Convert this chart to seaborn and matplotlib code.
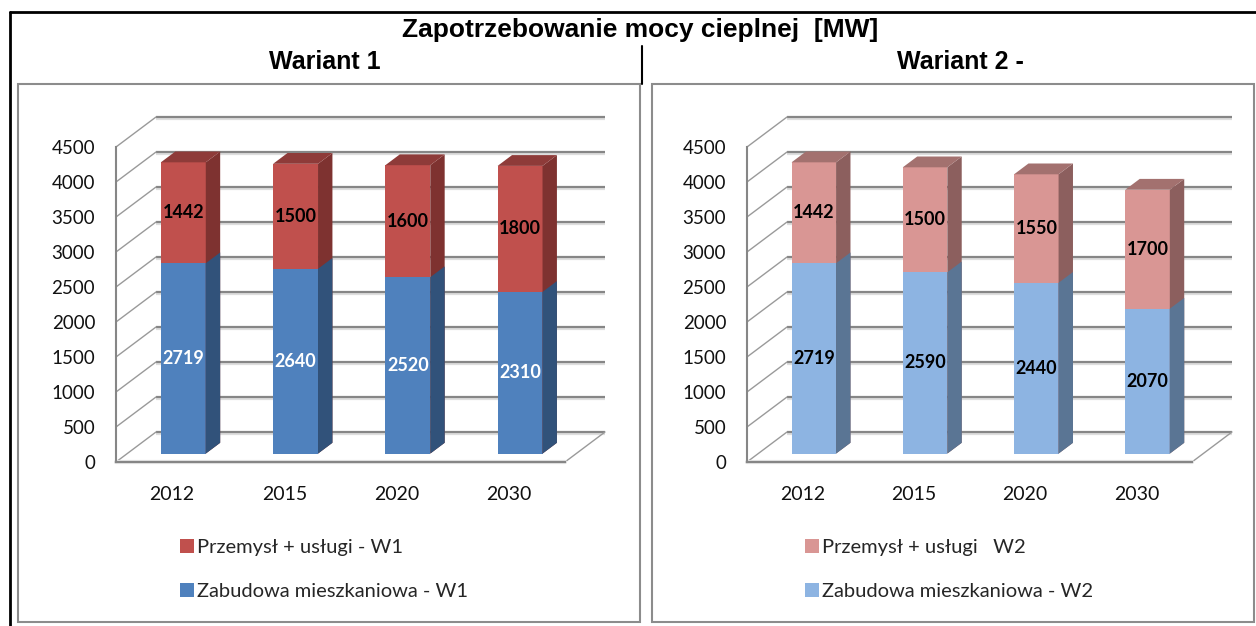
import matplotlib
matplotlib.use("Agg")
import matplotlib.pyplot as plt
import matplotlib.patheffects as pe
from matplotlib.patches import Polygon, Rectangle
from matplotlib.lines import Line2D
import seaborn as sns
import pandas as pd

# --- data ---
years = ['2012', '2015', '2020', '2030']
w1_mieszkaniowa = [2719, 2640, 2520, 2310]
w1_przemysl = [1442, 1500, 1600, 1800]
w2_mieszkaniowa = [2719, 2590, 2440, 2070]
w2_przemysl = [1442, 1500, 1550, 1700]
y_ticks = list(range(0, 5000, 500))

W, H = 1256, 626
GRID = '#868686'


def fx(x):
    return x / W


def fy(y):
    return 1 - y / H


def draw_panel(ax, res, ind, colors, label_colors, legend_labels, legend_pos):
    c_top, c_top_side, c_top_lid, c_bot, c_bot_side = colors
    df = pd.DataFrame({'rok': years, 'mieszk': res, 'przem': ind})
    df['suma'] = df['mieszk'] + df['przem']

    # front faces: totals first (top segment colour), residential on top of it
    sns.barplot(data=df, x='rok', y='suma', color=c_top, width=0.4,
                saturation=1, errorbar=None, ax=ax, zorder=3,
                linewidth=0, edgecolor='none')
    sns.barplot(data=df, x='rok', y='mieszk', color=c_bot, width=0.4,
                saturation=1, errorbar=None, ax=ax, zorder=3,
                linewidth=0, edgecolor='none')
    ax.set_xlim(-0.5, 3.5)
    ax.set_ylim(0, 4500)

    # depth of the 3D box in data units (40 px right, 30 px up)
    bb = ax.get_window_extent()
    dx = 40 / (bb.width / 4)
    dy = 30 / (bb.height / 4500)
    f1, f2 = 0.28, 0.64

    # back wall gridlines and side wall diagonals
    for t in y_ticks:
        ax.plot([-0.5 + dx, 3.5 + dx], [t + dy, t + dy], color=GRID, lw=1.6,
                clip_on=False, zorder=1, solid_capstyle='butt',
                path_effects=[pe.Stroke(offset=(0, -1.6), linewidth=1.6,
                                        foreground='#dedede'), pe.Normal()])
        ax.plot([-0.5, -0.5 + dx], [t, t + dy], color='#9a9a9a', lw=1.0,
                clip_on=False, zorder=1)
    ax.plot([3.5, 3.5 + dx], [0, dy], color='#9a9a9a', lw=1.0,
            clip_on=False, zorder=1)
    ax.plot([-0.5, 3.5], [0, 0], color='#e3e3e3', lw=3, clip_on=False,
            zorder=1.5)

    # push the bars back to mid-depth
    for p in ax.patches:
        p.set_x(p.get_x() + f1 * dx)
        p.set_y(p.get_y() + f1 * dy)
        p.set_clip_on(False)

    top_bars, bot_bars = ax.containers[0], ax.containers[1]
    e = f2 - f1
    for bars, side_col in ((top_bars, c_top_side), (bot_bars, c_bot_side)):
        for p in bars:
            x1 = p.get_x() + p.get_width()
            y0, y1 = p.get_y(), p.get_y() + p.get_height()
            ax.add_patch(Polygon([(x1, y0), (x1 + e * dx, y0 + e * dy),
                                  (x1 + e * dx, y1 + e * dy), (x1, y1)],
                                 closed=True, fc=side_col, ec='none',
                                 clip_on=False, zorder=3))
    for p in top_bars:
        x0, x1 = p.get_x(), p.get_x() + p.get_width()
        y1 = p.get_y() + p.get_height()
        ax.add_patch(Polygon([(x0, y1), (x0 + e * dx, y1 + e * dy),
                              (x1 + e * dx, y1 + e * dy), (x1, y1)],
                             closed=True, fc=c_top_lid, ec='none',
                             clip_on=False, zorder=3))

    # value labels centred on each front face
    for i, (pt, pb) in enumerate(zip(top_bars, bot_bars)):
        cx = pb.get_x() + pb.get_width() / 2
        y_b = pb.get_y() + pb.get_height()
        ax.text(cx, pb.get_y() + pb.get_height() / 2, str(res[i]),
                ha='center', va='center', fontsize=13, fontweight='bold',
                color=label_colors[1], zorder=5)
        ax.text(cx, (y_b + pt.get_y() + pt.get_height()) / 2, str(ind[i]),
                ha='center', va='center', fontsize=13, fontweight='bold',
                color=label_colors[0], zorder=5)

    # axes styling
    sns.despine(ax=ax, top=True, right=True)
    for s in ('left', 'bottom'):
        ax.spines[s].set_color(GRID)
        ax.spines[s].set_linewidth(1.5)
        ax.spines[s].set_zorder(2)
    ax.set_yticks(y_ticks)
    ax.tick_params(axis='y', direction='out', length=6, width=1.3,
                   color=GRID, labelsize=13.5, pad=9, labelcolor='#111111')
    ax.set_xticks([-0.5, 0.5, 1.5, 2.5, 3.5], minor=True)
    ax.tick_params(axis='x', which='minor', direction='out', length=5,
                   width=1.3, color=GRID)
    ax.tick_params(axis='x', which='major', length=0, labelsize=14, pad=17,
                   labelcolor='#111111')
    ax.set_xlabel('')
    ax.set_ylabel('')
    ax.grid(False)
    ax.set_facecolor('none')

    ax.legend(handles=[top_bars, bot_bars], labels=legend_labels,
              loc='upper left', frameon=False, fontsize=14.5,
              handlelength=0.7, handleheight=0.7, handletextpad=0.15,
              labelspacing=1.35, borderpad=0, borderaxespad=0,
              bbox_transform=ax.figure.transFigure,
              bbox_to_anchor=legend_pos)


sns.set_style('white')
plt.rcParams['font.family'] = ['Lato', 'DejaVu Sans']

fig = plt.figure(figsize=(W / 100, H / 100), dpi=100)

ax1 = fig.add_axes([fx(116), fy(462), (565 - 116) / W, (462 - 147) / H])
ax2 = fig.add_axes([fx(747), fy(462), (1192 - 747) / W, (462 - 147) / H])

draw_panel(ax1, w1_mieszkaniowa, w1_przemysl,
           ('#C0504D', '#7E3230', '#8E3B39', '#4F81BD', '#31527A'),
           ('black', 'white'),
           ['Przemysł + usługi - W1', 'Zabudowa mieszkaniowa - W1'],
           (fx(180), fy(539)))
draw_panel(ax2, w2_mieszkaniowa, w2_przemysl,
           ('#D99694', '#8C5F5E', '#A3716F', '#8DB4E2', '#5A7594'),
           ('black', 'black'),
           ['Przemysł + usługi   W2', 'Zabudowa mieszkaniowa - W2'],
           (fx(805), fy(539)))

# table frame and headings
fig.add_artist(Line2D([fx(10), fx(1256)], [fy(12), fy(12)],
                      transform=fig.transFigure, color='black', lw=2))
fig.add_artist(Line2D([fx(10), fx(10)], [fy(12), fy(626)],
                      transform=fig.transFigure, color='black', lw=2))
fig.add_artist(Line2D([fx(642), fx(642)], [fy(46), fy(84)],
                      transform=fig.transFigure, color='black', lw=1.5))
for x0, x1 in ((18, 640), (652, 1254)):
    fig.add_artist(Rectangle((fx(x0), fy(622)), (x1 - x0) / W, (622 - 84) / H,
                             transform=fig.transFigure, fill=False,
                             ec='#8c8c8c', lw=1.5))

head = dict(ha='center', va='center', fontweight='bold',
            family=['Liberation Sans', 'DejaVu Sans'], color='black')
fig.text(fx(640), fy(30), 'Zapotrzebowanie mocy cieplnej  [MW]', fontsize=19, **head)
fig.text(fx(325), fy(62), 'Wariant 1', fontsize=18, **head)
fig.text(fx(960), fy(62), 'Wariant 2 -', fontsize=18, **head)

fig.savefig('out.png', dpi=100)
